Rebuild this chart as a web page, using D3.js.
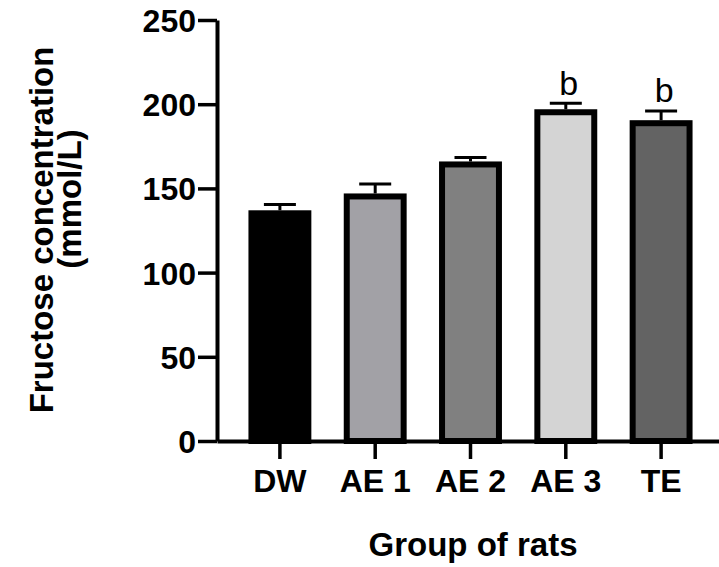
<!DOCTYPE html>
<html>
<head>
<meta charset="utf-8">
<script src="https://cdn.jsdelivr.net/npm/d3@7"></script>
<style>
  body { margin: 0; background: #fff; }
  svg { display: block; }
  text { font-family: "Liberation Sans", Arial, sans-serif; }
</style>
</head>
<body>
<div id="chart"></div>
<script>
// Fructose concentration per group (bar = mean, cap = mean + SEM)
const groups = ["DW", "AE 1", "AE 2", "AE 3", "TE"];
const means = [137, 147, 166, 197, 190.5];
const errors = [3.4, 5.6, 2.4, 3.6, 5.5];
const letters = ["", "", "", "b", "b"];
const fills = ["#000000", "#a2a1a6", "#808080", "#d4d4d4", "#636363"];
const yTicks = [0, 50, 100, 150, 200, 250];

const W = 719, H = 567;
const svg = d3.select("#chart").append("svg")
    .attr("width", W)
    .attr("height", H);

// scales
const x = d3.scaleBand()
    .domain(groups)
    .range([217, 724])
    .paddingInner(0.34)
    .paddingOuter(0.33);

const y = d3.scaleLinear()
    .domain([0, 250])
    .range([441, 20]);

const stroke = 6;

// bars
svg.selectAll(".bar")
    .data(groups)
    .enter()
    .append("rect")
    .attr("class", "bar")
    .attr("x", d => x(d) + stroke / 2)
    .attr("y", (d, i) => y(means[i]) + stroke / 2)
    .attr("width", x.bandwidth() - stroke)
    .attr("height", (d, i) => y(0) - y(means[i]) - stroke / 2)
    .attr("fill", (d, i) => fills[i])
    .attr("stroke", "#000")
    .attr("stroke-width", stroke);

// error bars (upper only)
const capHalf = 16;
const err = svg.selectAll(".err")
    .data(groups)
    .enter()
    .append("g")
    .attr("class", "err")
    .attr("stroke", "#000")
    .attr("stroke-width", 3);

err.append("line")
    .attr("x1", d => x(d) + x.bandwidth() / 2)
    .attr("x2", d => x(d) + x.bandwidth() / 2)
    .attr("y1", (d, i) => y(means[i]))
    .attr("y2", (d, i) => y(means[i] + errors[i]));

err.append("line")
    .attr("x1", d => x(d) + x.bandwidth() / 2 - capHalf)
    .attr("x2", d => x(d) + x.bandwidth() / 2 + capHalf)
    .attr("y1", (d, i) => y(means[i] + errors[i]))
    .attr("y2", (d, i) => y(means[i] + errors[i]));

// significance letters
svg.selectAll(".sig")
    .data(groups)
    .enter()
    .append("text")
    .attr("class", "sig")
    .attr("x", d => x(d) + x.bandwidth() / 2 + 3)
    .attr("y", (d, i) => y(means[i] + errors[i]) - 8.5)
    .attr("text-anchor", "middle")
    .style("font-size", "34px")
    .text((d, i) => letters[i]);

// y axis
const yAxis = svg.append("g")
    .attr("transform", "translate(217,0)")
    .call(d3.axisLeft(y).tickValues(yTicks).tickSize(19).tickSizeOuter(0).tickPadding(2));

// x axis
const xAxis = svg.append("g")
    .attr("transform", `translate(0,${y(0)})`)
    .call(d3.axisBottom(x).tickSize(18).tickSizeOuter(0).tickPadding(10));

[yAxis, xAxis].forEach(a => {
    a.select(".domain").attr("stroke", "#000").attr("stroke-width", 4);
    a.selectAll(".tick line").attr("stroke", "#000").attr("stroke-width", 3.5);
    a.selectAll(".tick text")
        .attr("fill", "#000")
        .style("font-family", "'Liberation Sans', Arial, sans-serif")
        .style("font-size", "32px")
        .style("font-weight", "bold");
});
yAxis.selectAll(".tick text").attr("dy", "0.36em");
xAxis.selectAll(".tick text").attr("dy", "0.71em");

// axis titles
svg.append("text")
    .attr("x", 473)
    .attr("y", 556)
    .attr("text-anchor", "middle")
    .style("font-size", "33px")
    .style("font-weight", "bold")
    .text("Group of rats");

svg.append("text")
    .attr("transform", "translate(53,230) rotate(-90)")
    .attr("text-anchor", "middle")
    .style("font-size", "33px")
    .style("font-weight", "bold")
    .text("Fructose concentration");

svg.append("text")
    .attr("transform", "translate(81,199) rotate(-90)")
    .attr("text-anchor", "middle")
    .style("font-size", "33px")
    .style("font-weight", "bold")
    .text("(mmol/L)");
</script>
</body>
</html>
